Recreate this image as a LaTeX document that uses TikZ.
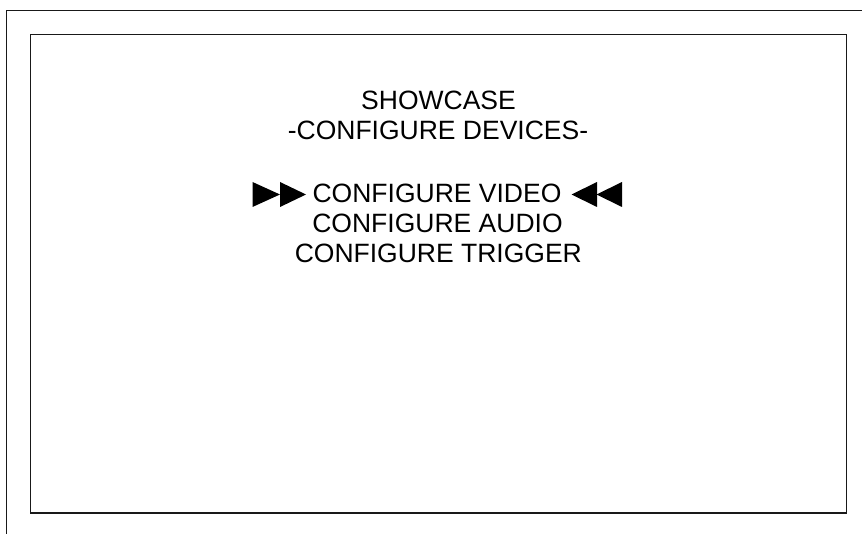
\documentclass[tikz,border=0pt]{standalone}
\usepackage{fontspec}
\setmainfont{Liberation Sans}
\begin{document}
\begin{tikzpicture}[x=1pt,y=-1pt,
  frame/.style={line width=1.9pt,draw=black!90},
  menutext/.style={inner sep=0pt,anchor=base,font=\fontsize{26.5}{30}\selectfont},
  arrowtri/.style={fill=black,draw=none}]
\useasboundingbox (0,0) rectangle (862,534);
\draw[frame] (6.5,534) -- (6.5,10.5) -- (862,10.5);
\draw[frame] (30.5,34.5) rectangle (846.5,513);
\node[menutext] (title) at (438.5,109.5) {SHOWCASE};
\node[menutext] (sub) at (438,140) {-CONFIGURE DEVICES-};
\node[menutext] (video) at (437,203) {CONFIGURE VIDEO};
\node[menutext] (audio) at (437.5,233) {CONFIGURE AUDIO};
\node[menutext] (trigger) at (438.3,263) {CONFIGURE TRIGGER};
\fill[arrowtri] (252.5,182) -- (280,194.5) -- (252.5,207) -- cycle;
\fill[arrowtri] (280,182) -- (306,194.5) -- (280,207) -- cycle;
\fill[arrowtri] (597,182) -- (571.5,194.5) -- (597,207) -- cycle;
\fill[arrowtri] (622,182) -- (596.5,194.5) -- (622,207) -- cycle;
\end{tikzpicture}
\end{document}
